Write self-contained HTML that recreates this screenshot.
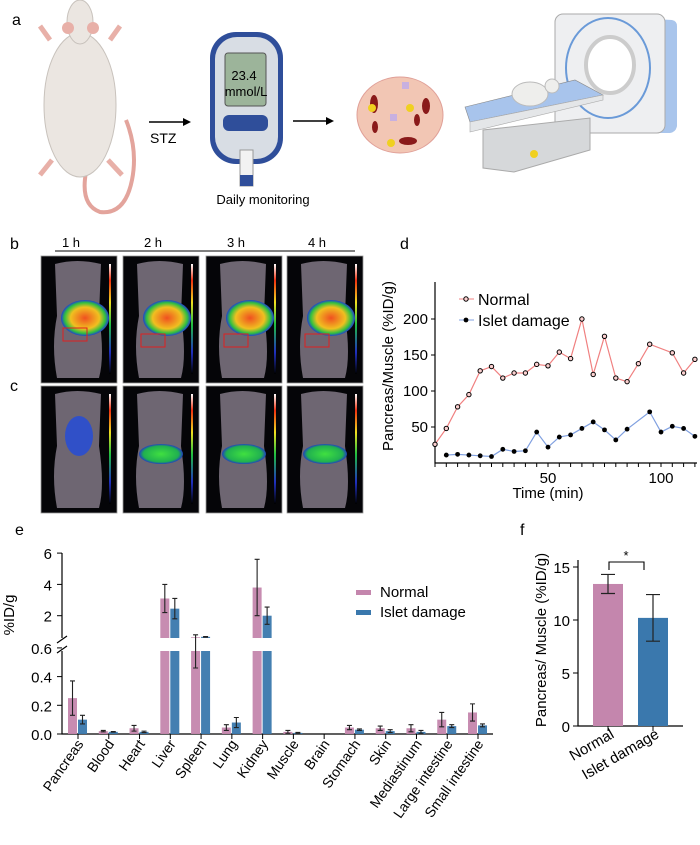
<!DOCTYPE html>
<html><head><meta charset="utf-8"><style>
html,body{margin:0;padding:0;background:#fff;}
body{width:700px;height:840px;overflow:hidden;font-family:"Liberation Sans",Arial,sans-serif;}
svg text{font-family:"Liberation Sans",Arial,sans-serif;}
</style></head><body>
<svg id="fig" width="700" height="840" viewBox="0 0 700 840" xmlns="http://www.w3.org/2000/svg">
<defs>
<linearGradient id="cbar" x1="0" y1="1" x2="0" y2="0">
<stop offset="0" stop-color="#000"/><stop offset="0.2" stop-color="#2030c0"/><stop offset="0.45" stop-color="#20c040"/><stop offset="0.65" stop-color="#f0e020"/><stop offset="0.85" stop-color="#f03010"/><stop offset="1" stop-color="#fff"/>
</linearGradient>
<radialGradient id="hot"><stop offset="0" stop-color="#f05020"/><stop offset="0.6" stop-color="#f0c020"/><stop offset="0.85" stop-color="#30c040"/><stop offset="1" stop-color="#2040d0"/></radialGradient>
<radialGradient id="grn"><stop offset="0" stop-color="#40e040"/><stop offset="0.8" stop-color="#20b050"/><stop offset="1" stop-color="#2040c0"/></radialGradient>
</defs>

<!-- Panel a -->
<g>
<text x="12" y="25" font-size="16">a</text>
<g>
<path d="M86 172 Q80 205 100 212 Q125 215 132 180 Q138 150 126 120" fill="none" stroke="#e3a49c" stroke-width="4"/>
<path d="M50 40 L40 26 M110 40 L120 26 M52 160 L40 175 M108 160 L122 175" stroke="#e8b0a8" stroke-width="5"/>
<ellipse cx="80" cy="105" rx="36" ry="72" fill="#ebe6e1" stroke="#c8c2bc"/>
<ellipse cx="80" cy="22" rx="13" ry="22" fill="#ebe6e1" stroke="#c8c2bc"/>
<ellipse cx="68" cy="28" rx="6" ry="6" fill="#e8b0a8"/><ellipse cx="93" cy="28" rx="6" ry="6" fill="#e8b0a8"/>
</g>
<line x1="149" y1="122" x2="184" y2="122" stroke="#000" stroke-width="1.5"/>
<polygon points="191,122 183,118 183,126" fill="#000"/>
<text x="150" y="143" font-size="14">STZ</text>
<g>
<rect x="210" y="32" width="73" height="132" rx="26" fill="#2f4e9a"/>
<rect x="215" y="37" width="63" height="122" rx="22" fill="#d8dde4"/>
<rect x="225" y="53" width="41" height="53" rx="3" fill="#9cb49a" stroke="#555"/>
<text x="244" y="80" font-size="13" text-anchor="middle">23.4</text>
<text x="246" y="96" font-size="13" text-anchor="middle">mmol/L</text>
<rect x="223" y="115" width="45" height="16" rx="6" fill="#2f4e9a"/>
<rect x="240" y="150" width="13" height="36" fill="#f2f2f2" stroke="#999"/>
<rect x="240" y="175" width="13" height="11" fill="#2f4e9a"/>
</g>
<text x="263" y="204" font-size="13" text-anchor="middle">Daily monitoring</text>
<line x1="293" y1="121" x2="327" y2="121" stroke="#000" stroke-width="1.5"/>
<polygon points="334,121 326,117 326,125" fill="#000"/>
<g>
<ellipse cx="400" cy="115" rx="43" ry="38" fill="#f2c6b4" stroke="#e0a098"/>
<ellipse cx="374" cy="104" rx="4" ry="9" fill="#8a1a1a"/>
<ellipse cx="426" cy="106" rx="4" ry="8" fill="#8a1a1a"/>
<ellipse cx="408" cy="141" rx="9" ry="4" fill="#8a1a1a"/>
<ellipse cx="417" cy="120" rx="3" ry="6" fill="#8a1a1a"/>
<ellipse cx="375" cy="127" rx="3" ry="6" fill="#8a1a1a"/>
<rect x="402" y="82" width="7" height="7" fill="#c8b0e0"/>
<rect x="390" y="114" width="7" height="7" fill="#c8b0e0"/>
<circle cx="372" cy="108" r="4" fill="#f0d020"/>
<circle cx="410" cy="108" r="4" fill="#f0d020"/>
<circle cx="391" cy="143" r="4" fill="#f0d020"/>
</g>
<g>
<path d="M560 14 L672 20 Q677 21 677 26 L677 126 Q676 132 670 133 L560 133 Z" fill="#a9c5ec"/>
<rect x="555" y="14" width="110" height="119" rx="8" fill="#eeeff1" stroke="#aaa"/>
<ellipse cx="608" cy="68" rx="42" ry="50" fill="none" stroke="#6a9ad8" stroke-width="2"/>
<ellipse cx="610" cy="65" rx="24" ry="28" fill="#fff" stroke="#ccc" stroke-width="4"/>
<path d="M483 130 L483 168 L514 172 L590 150 L590 118 Z" fill="#d6d8da" stroke="#aaa"/>
<path d="M465 107 L575 80 L603 95 L470 122 Z" fill="#a8c4ec" stroke="#888" stroke-width="0.6"/>
<path d="M470 122 L603 95 L603 100 L470 132 Z" fill="#e4e6e8" stroke="#aaa" stroke-width="0.6"/>
<ellipse cx="530" cy="94" rx="18" ry="12" fill="#eeeeec" stroke="#bbb"/>
<circle cx="552" cy="86" r="7" fill="#eeeeec" stroke="#bbb"/>
<circle cx="534" cy="154" r="4" fill="#f0d020"/>
</g>
</g>

<!-- Panel b / c -->
<g>
<text x="10" y="249" font-size="16">b</text>
<text x="10" y="391" font-size="16">c</text>
<line x1="55" y1="251" x2="355" y2="251" stroke="#000" stroke-width="1"/>
<g id="pet"></g>
</g>

<!-- Panel d -->
<g>
<text x="400" y="249" font-size="16">d</text>
<g id="chartD"></g>
</g>

<!-- Panel e -->
<g>
<text x="15" y="535" font-size="16">e</text>
<g id="chartE"></g>
</g>

<!-- Panel f -->
<g>
<text x="520" y="535" font-size="16">f</text>
<g id="chartF"></g>
</g>
</svg>
<script>
// ---------- Panel d data ----------
const dNormalTimes = [0,5,10,15,20,25,30,35,40,45,50,55,60,65,70,75,80,85,90,95,105,110,115];
const dNormalValues = [26,48,78,95,128,134,118,125,125,137,135,154,145,200,123,176,118,113,138,165,153,125,144];
const dIsletTimes = [5,10,15,20,25,30,35,40,45,50,55,60,65,70,75,80,85,95,100,105,110,115];
const dIsletValues = [11,12,11,10,9,19,16,17,43,22,36,39,48,57,46,32,47,71,43,51,48,37];
const dYTicks = [50,100,150,200];
const dXTicks = [50,100];

// ---------- Panel e data ----------
const eCategories = ["Pancreas","Blood","Heart","Liver","Spleen","Lung","Kidney","Muscle","Brain","Stomach","Skin","Mediastinum","Large intestine","Small intestine"];
const eNormal = [0.25,0.02,0.04,3.1,0.62,0.045,3.8,0.015,0,0.045,0.04,0.04,0.10,0.15];
const eNormalErr = [0.12,0.005,0.02,0.9,0.16,0.02,1.8,0.01,0,0.015,0.015,0.025,0.05,0.06];
const eIslet = [0.10,0.015,0.015,2.45,0.65,0.08,2.0,0.008,0,0.03,0.02,0.015,0.055,0.06];
const eIsletErr = [0.03,0.002,0.005,0.65,0.02,0.035,0.55,0.003,0,0.005,0.01,0.01,0.01,0.01];
const eLowTicks = ["0.0","0.2","0.4","0.6"];
const eHighTicks = ["2","4","6"];

// ---------- Panel f data ----------
const fCategories = ["Normal","Islet damage"];
const fValues = [13.4,10.2];
const fErr = [0.9,2.2];
const fYTicks = [0,5,10,15];

const NS="http://www.w3.org/2000/svg";
function mk(parent,tag,attrs,text){const e=document.createElementNS(NS,tag);for(const k in attrs)e.setAttribute(k,attrs[k]);if(text!==undefined)e.textContent=text;parent.appendChild(e);return e;}

// ---------- PET images ----------
(function(){
const g=document.getElementById('pet');
const xs=[41,123,206,287], labels=["1 h","2 h","3 h","4 h"];
labels.forEach((l,i)=>{const t=mk(g,'text',{x:xs[i]+30,y:247,'font-size':13,'text-anchor':'middle'},l);

});
[256,386].forEach((y,row)=>{
xs.forEach((x,i)=>{
const p=mk(g,'g',{});


mk(p,'rect',{x:x,y:y,width:76,height:127,fill:'#050508',stroke:'#999','stroke-width':0.8});
mk(p,'path',{d:`M${x+14} ${y+8} Q${x+36} ${y+2} ${x+60} ${y+8} L${x+58} ${y+60} Q${x+64} ${y+100} ${x+58} ${y+122} L${x+16} ${y+122} Q${x+10} ${y+90} ${x+16} ${y+60} Z`,fill:'#6e6672'});
mk(p,'rect',{x:x+68,y:y+8,width:2,height:110,fill:'url(#cbar)'});
if(row===0){
mk(p,'ellipse',{cx:x+44,cy:y+62,rx:24,ry:18,fill:'url(#hot)'});
mk(p,'rect',{x:x+(i===0?22:18),y:y+(i===0?72:78),width:24,height:13,fill:'none',stroke:'#e02020','stroke-width':1});
}else{
mk(p,'ellipse',{cx:x+38,cy:y+(i===0?50:68),rx:(i===0?14:22),ry:(i===0?20:10),fill:i===0?'#3050c8':'url(#grn)'});
}
});
});
})();

// ---------- Panel d ----------
(function(){
const g=document.getElementById('chartD');
const X=t=>435+t*2.26, Y=v=>463-v*0.72;
const ax=mk(g,'path',{d:`M435 282 L435 463 L697 463`,fill:'none',stroke:'#000','stroke-width':1.2});


for(let t=0;t<=115;t+=5){mk(g,'line',{x1:X(t),y1:463,x2:X(t),y2:467,stroke:'#000'});}
dYTicks.forEach(v=>{mk(g,'line',{x1:431,y1:Y(v),x2:435,y2:Y(v),stroke:'#000'});
const t=mk(g,'text',{x:428,y:Y(v)+5,'font-size':15,'text-anchor':'end'},String(v));

});
dXTicks.forEach(v=>{const t=mk(g,'text',{x:X(v),y:483,'font-size':15,'text-anchor':'middle'},String(v));

});
const xt=mk(g,'text',{x:548,y:498,'font-size':15,'text-anchor':'middle'},'Time (min)');


const yt=mk(g,'text',{x:0,y:0,'font-size':15,'text-anchor':'middle',transform:'translate(393,366) rotate(-90)'},'Pancreas/Muscle (%ID/g)');


const ln=mk(g,'polyline',{points:dNormalTimes.map((t,i)=>X(t)+','+Y(dNormalValues[i])).join(' '),fill:'none',stroke:'#f08080','stroke-width':1.2});


const li=mk(g,'polyline',{points:dIsletTimes.map((t,i)=>X(t)+','+Y(dIsletValues[i])).join(' '),fill:'none',stroke:'#80a0e0','stroke-width':1.2});


dNormalTimes.forEach((t,i)=>{const c=mk(g,'circle',{cx:X(t),cy:Y(dNormalValues[i]),r:2.2,fill:'#fbd0d0',stroke:'#000','stroke-width':1});

});
dIsletTimes.forEach((t,i)=>{const c=mk(g,'circle',{cx:X(t),cy:Y(dIsletValues[i]),r:2.4,fill:'#000'});

});
const lg=mk(g,'g',{});


mk(lg,'line',{x1:459,y1:299,x2:474,y2:299,stroke:'#f08080'});
mk(lg,'circle',{cx:466,cy:299,r:2.2,fill:'#fbd0d0',stroke:'#000'});
mk(lg,'text',{x:478,y:305,'font-size':16},'Normal');
mk(lg,'line',{x1:459,y1:320,x2:474,y2:320,stroke:'#80a0e0'});
mk(lg,'circle',{cx:466,cy:320,r:2.4,fill:'#000'});
mk(lg,'text',{x:478,y:326,'font-size':16},'Islet damage');
})();

// ---------- Panel e ----------
(function(){
const g=document.getElementById('chartE');
const PINK='#c486ad', BLUE='#3a78ad';
const lowY=v=>734-v*143.5;
const highY=v=>647-v*15.65;
const Y=v=>v<=0.6?lowY(v):Math.min(highY(v),638);
const CX=i=>78+i*30.77;
mk(g,'path',{d:'M62 553 L62 638 M62 651 L62 734 L493 734',fill:'none',stroke:'#000','stroke-width':1.2});
mk(g,'path',{d:'M57 643 L67 636 M57 653 L67 646',stroke:'#000','stroke-width':1.2});
eHighTicks.forEach(s=>{const v=+s;mk(g,'line',{x1:57,y1:highY(v),x2:62,y2:highY(v),stroke:'#000'});
const t=mk(g,'text',{x:52,y:highY(v)+6,'font-size':15,'text-anchor':'end'},s);

});
eLowTicks.forEach(s=>{const v=+s;mk(g,'line',{x1:57,y1:lowY(v),x2:62,y2:lowY(v),stroke:'#000'});
const t=mk(g,'text',{x:52,y:lowY(v)+6,'font-size':15,'text-anchor':'end'},s);

});
const yt=mk(g,'text',{x:0,y:0,'font-size':15,'text-anchor':'middle',transform:'translate(14,615) rotate(-90)'},'%ID/g');


function bar(x,v,err,col,name){
if(v<=0)return;
const top=Y(v),b=mk(g,'rect',{x:x,y:top,width:9,height:734-top,fill:col,opacity:0.95});


if(v>0.6){mk(g,'rect',{x:x-1,y:638,width:11,height:13,fill:'#fff'});}
const hi=Math.min(Y(v+err),Y(v)),lo=Y(Math.max(v-err,0));
mk(g,'path',{d:`M${x+4.5} ${hi} L${x+4.5} ${lo} M${x+2} ${hi} L${x+7} ${hi} M${x+2} ${lo} L${x+7} ${lo}`,stroke:'#222','stroke-width':1.1,fill:'none'});
}
eCategories.forEach((c,i)=>{
const cx=CX(i);
bar(cx-10,eNormal[i],eNormalErr[i],PINK,'bar-normal-'+c.toLowerCase().replace(/ /g,'-'));
bar(cx,eIslet[i],eIsletErr[i],BLUE,'bar-islet-'+c.toLowerCase().replace(/ /g,'-'));
mk(g,'line',{x1:cx,y1:734,x2:cx,y2:739,stroke:'#000'});
const t=mk(g,'text',{x:0,y:0,'font-size':14,'text-anchor':'end',transform:`translate(${cx+6},${744}) rotate(-55)`},c);


});
const lg=mk(g,'g',{});


mk(lg,'rect',{x:356,y:590,width:15,height:5,fill:PINK});
mk(lg,'text',{x:380,y:597,'font-size':15},'Normal');
mk(lg,'rect',{x:356,y:610,width:15,height:5,fill:BLUE});
mk(lg,'text',{x:380,y:617,'font-size':15},'Islet damage');
})();

// ---------- Panel f ----------
(function(){
const g=document.getElementById('chartF');
const Y=v=>726-v*10.6;
const cols=['#c486ad','#3a78ad'], xs=[593,638];
mk(g,'path',{d:'M578 560 L578 726 L683 726',fill:'none',stroke:'#000','stroke-width':1.2});
fYTicks.forEach(v=>{mk(g,'line',{x1:573,y1:Y(v),x2:578,y2:Y(v),stroke:'#000'});
const t=mk(g,'text',{x:570,y:Y(v)+6,'font-size':15,'text-anchor':'end'},String(v));

});
const yt=mk(g,'text',{x:0,y:0,'font-size':15,'text-anchor':'middle',transform:'translate(546,640) rotate(-90)'},'Pancreas/ Muscle (%ID/g)');


fCategories.forEach((c,i)=>{
const x=xs[i],top=Y(fValues[i]);
const b=mk(g,'rect',{x:x,y:top,width:30,height:726-top,fill:cols[i]});


const hi=Y(fValues[i]+fErr[i]),lo=Y(fValues[i]-fErr[i]);
mk(g,'path',{d:`M${x+15} ${hi} L${x+15} ${lo} M${x+8} ${hi} L${x+22} ${hi} M${x+8} ${lo} L${x+22} ${lo}`,stroke:'#222','stroke-width':1.2,fill:'none'});
mk(g,'line',{x1:x+15,y1:726,x2:x+15,y2:731,stroke:'#000'});
const t=mk(g,'text',{x:0,y:0,'font-size':15,'text-anchor':'end',transform:`translate(${x+22},${737}) rotate(-30)`},c);


});
const s=mk(g,'path',{d:'M609 570 L609 562 L644 562 L644 570',fill:'none',stroke:'#000','stroke-width':1.1});


const st=mk(g,'text',{x:626,y:560,'font-size':13,'text-anchor':'middle'},'*');


})();
</script>
</body></html>
